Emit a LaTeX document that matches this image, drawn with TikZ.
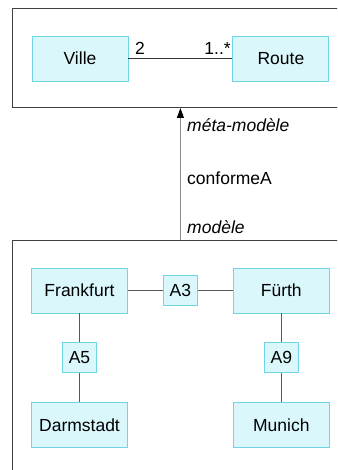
\documentclass[tikz,border=0pt]{standalone}
\usepackage{fontspec}
\setmainfont{Liberation Sans}
\usetikzlibrary{arrows.meta, positioning}

\definecolor{boxfill}{RGB}{218,247,252}
\definecolor{boxdraw}{RGB}{110,212,230}

\begin{document}
\begin{tikzpicture}[
    x=1pt, y=1pt,
    font=\fontsize{17.5}{20}\selectfont,
    classbox/.style={
        rectangle,
        draw=boxdraw,
        fill=boxfill,
        line width=0.9pt,
        minimum width=96pt,
        minimum height=45pt,
        inner sep=2pt
    },
    linkbox/.style={
        classbox,
        minimum width=34pt,
        minimum height=30pt
    },
    frame/.style={
        rectangle,
        draw=black!75,
        line width=1pt,
        anchor=north west,
        minimum width=340pt,
        inner sep=0pt
    },
    assoc/.style={
        draw=black!80,
        line width=0.8pt
    },
    link/.style={
        draw=black!65,
        line width=0.8pt
    },
    conform/.style={
        -{Triangle[length=10pt,width=7pt,color=black]},
        draw=black!45,
        line width=1pt
    },
    role/.style={
        right,
        xshift=3pt
    }
]

\clip (0,0) rectangle (337,-470);
\useasboundingbox (0,0) rectangle (337,-470);

% --- Frames ------------------------------------------------------------------

\node[frame, minimum height=99pt] (metamodel) at (12,-8) {};
\node[frame, minimum height=250pt] (model) at (12,-240) {};

% --- Meta-model --------------------------------------------------------------

\node[classbox] (ville) at (80,-58.5) {Ville};
\node[classbox, right=104pt of ville] (route) {Route};

\draw[assoc] (ville) -- node[pos=0, above right, xshift=3pt] {2}
    node[pos=1, above left, xshift=2pt] {1..*} (route);

% --- Model -------------------------------------------------------------------

\node[classbox] (frankfurt) at (79.5,-290.5) {Frankfurt};
\node[linkbox, right=35pt of frankfurt] (a3) {A3};
\node[classbox, right=35pt of a3] (fuerth) {Fürth};

\node[linkbox, below=29pt of frankfurt] (a5) {A5};
\node[classbox, below=29pt of a5] (darmstadt) {Darmstadt};

\node[linkbox, below=29pt of fuerth] (a9) {A9};
\node[classbox, below=29pt of a9] (munich) {Munich};

\draw[link] (frankfurt) -- (a3);
\draw[link] (a3) -- (fuerth);
\draw[link] (frankfurt) -- (a5);
\draw[link] (a5) -- (darmstadt);
\draw[link] (fuerth) -- (a9);
\draw[link] (a9) -- (munich);

% --- Conformance -------------------------------------------------------------

\draw[conform] (model.north -| a3) --
    node[pos=0.87, role] {\itshape méta-modèle}
    node[pos=0.47, role] {conformeA}
    node[pos=0.10, role] {\itshape modèle}
    (metamodel.south -| a3);

\end{tikzpicture}
\end{document}
